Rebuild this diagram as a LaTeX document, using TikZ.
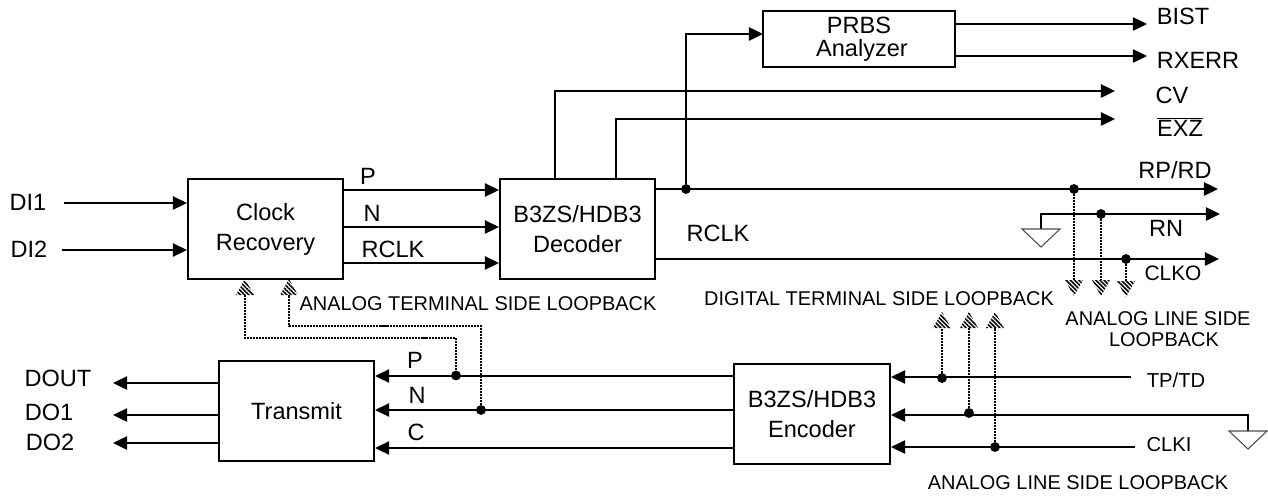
\documentclass[tikz,border=0pt]{standalone}
\usepackage{fontspec}
\setmainfont{Liberation Sans}
\usetikzlibrary{arrows.meta,patterns.meta}
\tikzset{
    blockbox/.style={draw, line width=1.2pt, minimum width=3.1cm, minimum height=2cm, align=center, font=\fontsize{13.4}{17}\selectfont, inner sep=0pt},
    biglabel/.style={inner sep=0pt, font=\fontsize{13.4}{16}\selectfont, align=center},
    midlabel/.style={inner sep=0pt, font=\fontsize{11.5}{14}\selectfont, align=center},
    smalllabel/.style={inner sep=0pt, font=\fontsize{11.35}{11.9}\selectfont, align=center},
    sigline/.style={line width=1.15pt, -{Triangle[length=8pt,width=7.5pt]}},
    loopline/.style={line width=1.5pt, dash pattern=on 1.15pt off 0.55pt},
    dotnode/.style={circle, fill=black, inner sep=0pt, minimum size=5.6pt},
    looptip/.pic={
        \fill[pattern={Lines[angle=-45,distance=1.7pt,line width=0.9pt]}] (-9,0) -- (0,-16) -- (9,0) -- cycle;
    },
    gndtip/.pic={
        \draw[line width=0.6pt, black!70] (-19,0) -- (19,0) -- (0,18) -- cycle;
    }
}
\begin{document}
\begin{tikzpicture}[x=0.02cm, y=-0.02cm]
    \useasboundingbox (0,0) rectangle (1268,498);
    % blocks
    \node[blockbox] (clockrec) at (265.5,229) {Clock\\Recovery};
    \node[blockbox] (decoder) at (577.5,229) {B3ZS/HDB3\\Decoder};
    \node[blockbox, minimum width=3.84cm, minimum height=1.12cm, font=\fontsize{13.4}{13}\selectfont] (prbs) at (859,39) {PRBS\\\hspace*{3.4pt}Analyzer};
    \node[blockbox] (transmit) at (296.5,411) {Transmit};
    \node[blockbox, minimum width=3.12cm, font=\fontsize{13.4}{17.5}\selectfont] (encoder) at (812,414) {B3ZS/HDB3\\Encoder};
    % left inputs
    \node[biglabel] (di1) at (28,202) {DI1};
    \node[biglabel] (di2) at (29,249) {DI2};
    \coordinate (di1s) at (64,203);
    \coordinate (di2s) at (62,250);
    \draw[sigline] (di1s) -- (di1s -| clockrec.west);
    \draw[sigline] (di2s) -- (di2s -| clockrec.west);
    % clock recovery to decoder
    \coordinate (ps) at (343,190);
    \coordinate (ns) at (343,227);
    \coordinate (cs) at (343,263);
    \draw[sigline] (ps) -- (ps -| decoder.west);
    \draw[sigline] (ns) -- (ns -| decoder.west);
    \draw[sigline] (cs) -- (cs -| decoder.west);
    \node[biglabel] (plab) at (368,176) {P};
    \node[biglabel] (nlab) at (372,213) {N};
    \node[biglabel] (rclklab) at (393,249) {RCLK};
    % decoder outputs
    \coordinate (rpend) at (1218,189);
    \coordinate (clkoend) at (1219,259);
    \coordinate (cvend) at (1115,91);
    \coordinate (exzend) at (1115,119);
    \coordinate (cvs) at (555,179);
    \coordinate (exzs) at (616,179);
    \coordinate (prbsin) at (763,34);
    \node[dotnode] (branch) at (686,189) {};
    \draw[sigline] (rpend -| decoder.east) -- (rpend);
    \draw[sigline] (clkoend -| decoder.east) -- (clkoend);
    \draw[sigline] (cvs) |- (cvend);
    \draw[sigline] (exzs) |- (exzend);
    \draw[sigline] (branch) |- (prbsin);
    \node[biglabel] (rclkout) at (718,233) {RCLK};
    % prbs outputs
    \coordinate (bistend) at (1147,24);
    \coordinate (rxerrend) at (1147,56);
    \draw[sigline] (bistend -| prbs.east) -- (bistend);
    \draw[sigline] (rxerrend -| prbs.east) -- (rxerrend);
    \node[biglabel] (bist) at (1183,16) {BIST};
    \node[biglabel] (rxerr) at (1198,60) {RXERR};
    \node[biglabel] (cv) at (1172,95) {CV};
    \node[biglabel] (exz) at (1180,127) {$\overline{\mbox{EXZ}}$};
    \node[biglabel] (rprd) at (1175,170) {RP/RD};
    \node[biglabel] (rn) at (1166,228) {RN};
    \node[midlabel, font=\fontsize{11.9}{14}\selectfont] (clko) at (1173,273) {CLKO};
    % receive ground
    \coordinate (gnda) at (1041,229);
    \coordinate (rnend) at (1220,214);
    \draw[sigline] (gnda) |- (rnend);
    \pic at (gnda) {gndtip};
    % receive loopback
    \node[dotnode] (lbrp) at (1074,189) {};
    \node[dotnode] (lbrn) at (1101,214) {};
    \node[dotnode] (lbck) at (1126,259) {};
    \coordinate (tiprp) at (1074,280);
    \coordinate (tiprn) at (1101,280);
    \coordinate (tipck) at (1126,281);
    \draw[loopline] (lbrp) -- (tiprp);
    \draw[loopline] (lbrn) -- (tiprn);
    \draw[loopline] (lbck) -- (tipck);
    \pic[rotate=180] at (tiprp) {looptip};
    \pic[rotate=180] at (tiprn) {looptip};
    \pic[rotate=180] at (tipck) {looptip};
    \node[smalllabel] (alsl) at (1158,329.5) {ANALOG LINE SIDE\\\hspace*{6.8pt}LOOPBACK};
    \node[smalllabel] (dtsl) at (879,299) {DIGITAL TERMINAL SIDE LOOPBACK};
    \node[smalllabel] (atsl) at (478,304) {ANALOG TERMINAL SIDE LOOPBACK};
    \node[smalllabel] (alslb) at (1078,483) {ANALOG LINE SIDE LOOPBACK};
    % encoder inputs
    \node[midlabel] (tptd) at (1176,380) {TP/TD};
    \node[midlabel] (clki) at (1169,445) {CLKI};
    \coordinate (tps) at (1131,377);
    \coordinate (gnds) at (1248,431);
    \coordinate (gndm) at (1248,415);
    \coordinate (clks) at (1135,447);
    \draw[sigline] (tps) -- (tps -| encoder.east);
    \draw[sigline] (gnds) |- (gndm -| encoder.east);
    \draw[sigline] (clks) -- (clks -| encoder.east);
    \pic at (gnds) {gndtip};
    % transmit loopback
    \node[dotnode] (lbtp) at (942,378) {};
    \node[dotnode] (lbgn) at (969,413) {};
    \node[dotnode] (lbcl) at (995,447) {};
    \coordinate (tiptp) at (942,328);
    \coordinate (tipgn) at (969,328);
    \coordinate (tipcl) at (995,328);
    \draw[loopline] (lbtp) -- (tiptp);
    \draw[loopline] (lbgn) -- (tipgn);
    \draw[loopline] (lbcl) -- (tipcl);
    \pic at (tiptp) {looptip};
    \pic at (tipgn) {looptip};
    \pic at (tipcl) {looptip};
    % encoder to transmit
    \coordinate (pe) at (734,376);
    \coordinate (ne) at (734,410);
    \coordinate (ce) at (734,448);
    \draw[sigline] (pe) -- (pe -| transmit.east);
    \draw[sigline] (ne) -- (ne -| transmit.east);
    \draw[sigline] (ce) -- (ce -| transmit.east);
    \node[biglabel] (pb) at (415,360) {P};
    \node[biglabel] (nb) at (417,395) {N};
    \node[biglabel] (cb) at (416,432) {C};
    % analog terminal loopback
    \node[dotnode] (lbp) at (456,375.5) {};
    \node[dotnode] (lbn) at (481,410) {};
    \coordinate (cornp) at (245,338);
    \coordinate (cornn) at (289,326);
    \coordinate (tipp) at (245,295);
    \coordinate (tipn) at (289,295);
    \draw[loopline] (lbp) |- (cornp) -- (tipp);
    \draw[loopline] (lbn) |- (cornn) -- (tipn);
    \pic at (tipp) {looptip};
    \pic at (tipn) {looptip};
    % transmit outputs
    \coordinate (doutend) at (113,383);
    \coordinate (do1end) at (113,415);
    \coordinate (do2end) at (113,443);
    \draw[sigline] (doutend -| transmit.west) -- (doutend);
    \draw[sigline] (do1end -| transmit.west) -- (do1end);
    \draw[sigline] (do2end -| transmit.west) -- (do2end);
    \node[biglabel] (dout) at (58,378) {DOUT};
    \node[biglabel] (do1) at (49,412) {DO1};
    \node[biglabel] (do2) at (50,442) {DO2};
\end{tikzpicture}
\end{document}
